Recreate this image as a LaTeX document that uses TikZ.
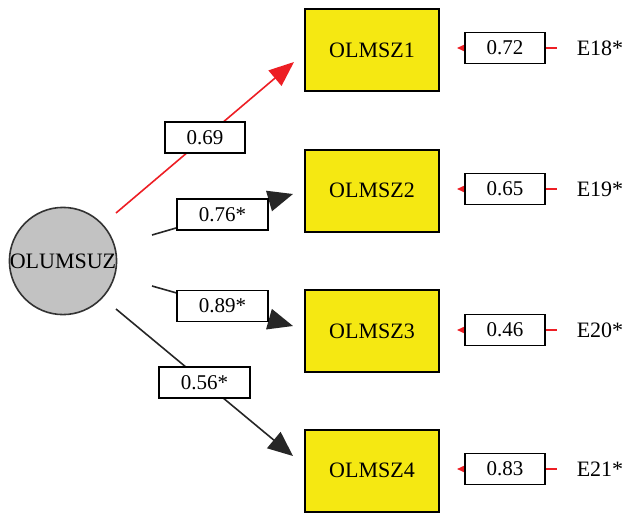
\documentclass[tikz,border=0pt]{standalone}
\usepackage{fontspec}
\setmainfont{Liberation Serif}
\usetikzlibrary{arrows.meta}
\definecolor{boxyellow}{RGB}{245,232,18}
\definecolor{latgray}{RGB}{194,194,194}
\definecolor{pathred}{RGB}{237,30,36}
\tikzset{
  obsbox/.style={draw=black, line width=2pt, fill=boxyellow, minimum width=134pt, minimum height=82pt, inner sep=0pt, font=\fontsize{22}{26}\selectfont},
  latent/.style={circle, draw=black!80, line width=1.6pt, fill=latgray, minimum size=106pt, inner sep=0pt, font=\fontsize{22}{26}\selectfont},
  coefbox/.style={draw=black, line width=1.8pt, fill=white, inner xsep=21.5pt, inner ysep=0pt, minimum height=31pt, font=\fontsize{21}{25}\selectfont},
  errlabel/.style={inner sep=0pt, font=\fontsize{22}{26}\selectfont},
  blackpath/.style={draw=black!85, line width=1.6pt, -{Triangle[length=25pt,width=21pt]}},
  redpath/.style={draw=pathred, line width=1.6pt, -{Triangle[length=25pt,width=20pt]}},
  errpath/.style={draw=pathred, line width=1.4pt, -{Triangle[length=8pt,width=7pt]}, shorten <=20pt, shorten >=17pt}
}
\begin{document}
\begin{tikzpicture}[x=1pt,y=-1pt]
\useasboundingbox (0,0) rectangle (624,512);
\node[latent] (F) at (63,261) {OLUMSUZ};
\node[obsbox] (V1) at (372,50) {OLMSZ1};
\node[obsbox] (V2) at (372,190.5) {OLMSZ2};
\node[obsbox] (V3) at (372,331) {OLMSZ3};
\node[obsbox] (V4) at (372,470.5) {OLMSZ4};
\node[errlabel] (E1) at (600,48) {E18*};
\node[errlabel] (E2) at (600,189) {E19*};
\node[errlabel] (E3) at (600,330) {E20*};
\node[errlabel] (E4) at (600,469) {E21*};
% structural paths
\coordinate (s1) at (116,213);
\coordinate (t1) at (294,62);
\coordinate (s2) at (152,235);
\coordinate (t2) at (293,194);
\coordinate (s3) at (152,286);
\coordinate (t3) at (293,326);
\coordinate (s4) at (116,309);
\coordinate (t4) at (293,456);
\draw[redpath] (s1) -- node[coefbox, pos=0.5] (c1) {0.69} (t1);
\draw[blackpath] (s2) -- node[coefbox, pos=0.5] (c2) {0.76*} (t2);
\draw[blackpath] (s3) -- node[coefbox, pos=0.5] (c3) {0.89*} (t3);
\draw[blackpath] (s4) -- node[coefbox, pos=0.5] (c4) {0.56*} (t4);
% error paths
\draw[errpath] (E1.west) -- node[coefbox, pos=0.525] (d1) {0.72} (V1.east |- E1.west);
\draw[errpath] (E2.west) -- node[coefbox, pos=0.525] (d2) {0.65} (V2.east |- E2.west);
\draw[errpath] (E3.west) -- node[coefbox, pos=0.525] (d3) {0.46} (V3.east |- E3.west);
\draw[errpath] (E4.west) -- node[coefbox, pos=0.525] (d4) {0.83} (V4.east |- E4.west);
\end{tikzpicture}
\end{document}
